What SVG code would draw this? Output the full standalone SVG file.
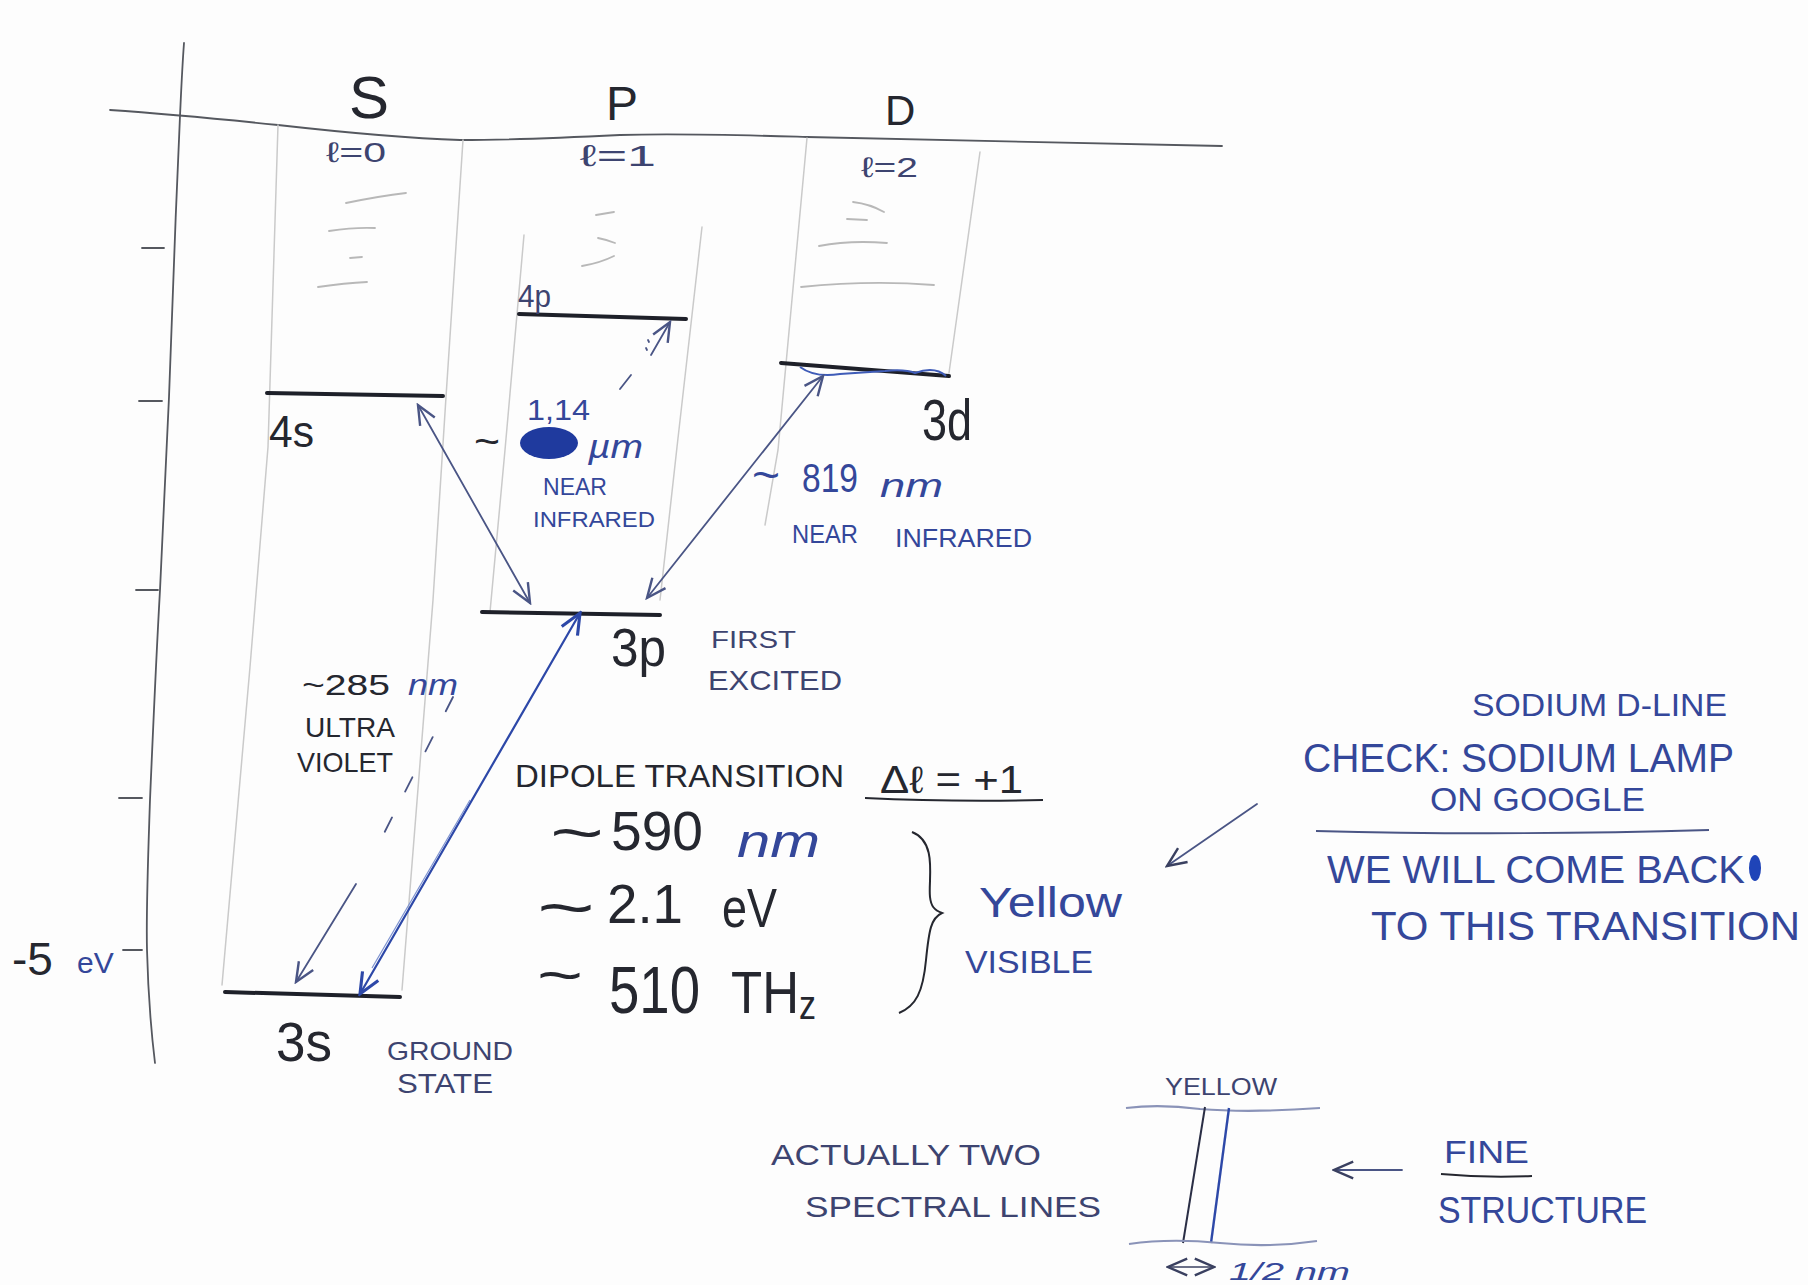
<svg xmlns="http://www.w3.org/2000/svg" width="1808" height="1285" viewBox="0 0 1808 1285">
<defs>
<style>
.t{font-family:"Liberation Sans","DejaVu Sans",sans-serif;}
.ink{fill:#25272f;}
.blue{fill:#34479a;}
.slate{fill:#3d4470;}
.faint{stroke:#cacaca;stroke-width:1.5;fill:none;stroke-linecap:round;}
.sub{stroke:#b8b8b8;stroke-width:1.8;fill:none;stroke-linecap:round;}
.lvl{stroke:#1e2029;stroke-width:4;fill:none;stroke-linecap:round;}
.axis{stroke:#55585f;stroke-width:1.8;fill:none;stroke-linecap:round;}
.con{stroke:#4a5585;stroke-width:1.8;fill:none;stroke-linecap:round;}
.conb{stroke:#2d48a8;stroke-width:2.2;fill:none;stroke-linecap:round;}
</style>
<marker id="ah" viewBox="0 0 20 20" refX="18" refY="10" markerWidth="24" markerHeight="24" markerUnits="userSpaceOnUse" orient="auto-start-reverse">
<path d="M2,3 L18,10 L2,17" fill="none" stroke="#4a5585" stroke-width="2"/>
</marker>
<marker id="ahb" viewBox="0 0 20 20" refX="18" refY="10" markerWidth="26" markerHeight="26" markerUnits="userSpaceOnUse" orient="auto-start-reverse">
<path d="M2,3 L18,10 L2,17" fill="none" stroke="#2d48a8" stroke-width="2.4"/>
</marker>
<marker id="ahk" viewBox="0 0 20 20" refX="18" refY="10" markerWidth="24" markerHeight="24" markerUnits="userSpaceOnUse" orient="auto-start-reverse">
<path d="M2,3 L18,10 L2,17" fill="none" stroke="#3a4060" stroke-width="2"/>
</marker>
</defs>
<rect width="1808" height="1285" fill="#fdfdfd"/>

<g id="axes">
<path class="axis" d="M184,43 C182,70 181,95 180,116 C176,210 172,300 169,397 C166,470 163,530 160,590 C156,660 153,730 150,800 C148,860 146,910 147,950 C148,990 151,1030 155,1063"/>
<path class="axis" d="M110,110 C170,114 230,120 278,125 C340,132 400,138 460,140 C520,140 560,138 620,135 C680,133 740,135 807,137 C900,140 1050,143 1222,146"/>
<path class="axis" d="M142,248 L164,248 M139,401 L162,401 M136,590 L158,590 M119,798 L142,798 M123,950 L142,950"/>
<text class="t ink" x="12" y="975" font-size="46">-5</text>
<text class="t blue" x="77" y="973" font-size="30">eV</text>
</g>

<g id="column-s">
<path class="faint" d="M278,125 L268,447 L250,667 L222,985"/>
<path class="faint" d="M463,140 L446,397 L433,600 L402,990"/>
<path class="sub" d="M346,203 Q380,196 406,193 M329,231 Q355,227 375,228 M350,258 L362,257 M318,287 Q345,283 367,282"/>
<text class="t ink" x="349" y="118" font-size="60">S</text>
<text class="t slate" x="326" y="162" font-size="28" textLength="60" lengthAdjust="spacingAndGlyphs">ℓ=0</text>
</g>

<g id="column-p">
<path class="faint" d="M524,235 L505,450 L490,612"/>
<path class="faint" d="M702,227 L677,447 L660,600"/>
<path class="sub" d="M596,215 L614,212 M598,238 Q608,240 615,243 M582,266 Q600,263 614,256"/>
<text class="t ink" x="606" y="120" font-size="48">P</text>
<text class="t slate" x="580" y="166" font-size="30" textLength="76" lengthAdjust="spacingAndGlyphs">ℓ=1</text>
</g>

<g id="column-d">
<path class="faint" d="M807,138 L778,450 L765,525"/>
<path class="faint" d="M980,152 L949,373"/>
<path class="sub" d="M853,202 Q870,204 884,212 M847,219 L867,220 M819,246 Q850,240 887,243 M801,287 Q870,280 934,285"/>
<text class="t ink" x="885" y="125" font-size="42">D</text>
<text class="t slate" x="861" y="177" font-size="28" textLength="57" lengthAdjust="spacingAndGlyphs">ℓ=2</text>
</g>

<g id="level-4s">
<path class="lvl" d="M267,393 L443,396"/>
<text class="t ink" x="269" y="447" font-size="44" textLength="45" lengthAdjust="spacingAndGlyphs">4s</text>
</g>

<g id="level-4p">
<path class="lvl" d="M519,314 L686,319"/>
<text class="t slate" x="518" y="307" font-size="32" textLength="33" lengthAdjust="spacingAndGlyphs">4p</text>
</g>

<g id="level-3d">
<path class="lvl" d="M781,363 L949,376"/>
<path d="M800,367 Q815,378 840,374 Q870,372 885,371 Q905,369 915,373 Q935,366 946,376" fill="none" stroke="#3f5cb8" stroke-width="2"/>
<text class="t ink" x="922" y="440" font-size="58" textLength="50" lengthAdjust="spacingAndGlyphs">3d</text>
</g>

<g id="level-3p">
<path class="lvl" d="M482,612 L660,615"/>
<text class="t ink" x="611" y="666" font-size="54" textLength="55" lengthAdjust="spacingAndGlyphs">3p</text>
<text class="t slate" x="711" y="648" font-size="24" textLength="85" lengthAdjust="spacingAndGlyphs">FIRST</text>
<text class="t slate" x="708" y="690" font-size="28" textLength="134" lengthAdjust="spacingAndGlyphs">EXCITED</text>
</g>

<g id="level-3s">
<path class="lvl" d="M225,992 L400,997"/>
<text class="t ink" x="276" y="1061" font-size="56" textLength="56" lengthAdjust="spacingAndGlyphs">3s</text>
<text class="t slate" x="387" y="1060" font-size="26" textLength="126" lengthAdjust="spacingAndGlyphs">GROUND</text>
<text class="t slate" x="397" y="1093" font-size="28" textLength="96" lengthAdjust="spacingAndGlyphs">STATE</text>
</g>

<g id="connectors">
<path class="con" d="M418,405 L530,603" marker-start="url(#ah)" marker-end="url(#ah)"/>
<path class="con" d="M823,376 L647,598" marker-start="url(#ah)" marker-end="url(#ah)"/>
<path class="conb" d="M360,994 L580,613" marker-start="url(#ahb)" marker-end="url(#ahb)"/>
<path d="M372,968 L470,800" fill="none" stroke="#7d92d0" stroke-width="1.2"/>
<path class="con" d="M620,389 L631,375"/>
<path class="con" d="M648,340 L649,342 M646,348 L647,350"/>
<path class="con" d="M651,355 L670,322" marker-end="url(#ah)"/>
<path class="con" d="M453,697 L372,857" stroke-dasharray="16 29"/>
<path class="con" d="M356,884 L296,982" marker-end="url(#ah)"/>
<path class="con" d="M1257,804 L1167,866" marker-end="url(#ahk)"/>
<path class="con" d="M1402,1170 L1334,1170" marker-end="url(#ahk)"/>
<path d="M1168,1267 L1214,1267" fill="none" stroke="#3a4060" stroke-width="1.6" marker-start="url(#ahk)" marker-end="url(#ahk)"/>
</g>

<g id="label-1-14um">
<text class="t blue" x="527" y="420" font-size="30" textLength="63" lengthAdjust="spacingAndGlyphs">1,14</text>
<text class="t ink" x="474" y="455" font-size="40" textLength="26" lengthAdjust="spacingAndGlyphs">~</text>
<ellipse cx="549" cy="443" rx="29" ry="16" fill="#1f3a9e"/>
<text class="t blue" x="588" y="458" font-size="34" font-style="italic" textLength="55" lengthAdjust="spacingAndGlyphs">µm</text>
<text class="t blue" x="543" y="495" font-size="24" textLength="64" lengthAdjust="spacingAndGlyphs">NEAR</text>
<text class="t blue" x="533" y="527" font-size="22" textLength="122" lengthAdjust="spacingAndGlyphs">INFRARED</text>
</g>

<g id="label-819nm">
<text class="t blue" x="752" y="490" font-size="44" textLength="28" lengthAdjust="spacingAndGlyphs">~</text>
<text class="t blue" x="802" y="492" font-size="40" textLength="56" lengthAdjust="spacingAndGlyphs">819</text>
<text class="t blue" x="880" y="497" font-size="34" font-style="italic" textLength="63" lengthAdjust="spacingAndGlyphs">nm</text>
<text class="t blue" x="792" y="543" font-size="26" textLength="66" lengthAdjust="spacingAndGlyphs">NEAR</text>
<text class="t blue" x="895" y="547" font-size="26" textLength="137" lengthAdjust="spacingAndGlyphs">INFRARED</text>
</g>

<g id="label-285nm">
<text class="t ink" x="302" y="695" font-size="30" textLength="88" lengthAdjust="spacingAndGlyphs">~285</text>
<text class="t blue" x="408" y="695" font-size="30" font-style="italic" textLength="50" lengthAdjust="spacingAndGlyphs">nm</text>
<text class="t ink" x="305" y="737" font-size="28" textLength="90" lengthAdjust="spacingAndGlyphs">ULTRA</text>
<text class="t ink" x="297" y="772" font-size="28" textLength="96" lengthAdjust="spacingAndGlyphs">VIOLET</text>
</g>

<g id="label-dipole">
<text class="t ink" x="515" y="787" font-size="32" textLength="329" lengthAdjust="spacingAndGlyphs">DIPOLE TRANSITION</text>
<text class="t ink" x="880" y="793" font-size="38" textLength="143" lengthAdjust="spacingAndGlyphs">Δℓ = +1</text>
<path d="M865,798 Q950,802 1043,800" fill="none" stroke="#25272f" stroke-width="2"/>
<text class="t ink" x="550" y="854" font-size="62" textLength="54" lengthAdjust="spacingAndGlyphs">~</text>
<text class="t ink" x="611" y="850" font-size="56" textLength="92" lengthAdjust="spacingAndGlyphs">590</text>
<text class="t blue" x="737" y="857" font-size="46" font-style="italic" textLength="83" lengthAdjust="spacingAndGlyphs">nm</text>
<text class="t ink" x="537" y="930" font-size="64" textLength="58" lengthAdjust="spacingAndGlyphs">~</text>
<text class="t ink" x="607" y="923" font-size="56" textLength="76" lengthAdjust="spacingAndGlyphs">2.1</text>
<text class="t ink" x="722" y="927" font-size="56" textLength="55" lengthAdjust="spacingAndGlyphs">eV</text>
<text class="t ink" x="537" y="995" font-size="58" textLength="46" lengthAdjust="spacingAndGlyphs">~</text>
<text class="t ink" x="609" y="1013" font-size="66" textLength="91" lengthAdjust="spacingAndGlyphs">510</text>
<text class="t ink" transform="translate(731,1013) scale(0.85,1)" x="0" y="0" font-size="60">TH<tspan font-size="40" dy="6">z</tspan></text>
<path d="M912,832 C938,842 928,880 930,897 C931,906 934,910 942,913 C931,918 929,930 926,960 C923,992 916,1006 899,1013" fill="none" stroke="#25272f" stroke-width="2"/>
<text class="t blue" x="979" y="917" font-size="42" textLength="143" lengthAdjust="spacingAndGlyphs">Yellow</text>
<text class="t blue" x="965" y="973" font-size="32" textLength="128" lengthAdjust="spacingAndGlyphs">VISIBLE</text>
</g>

<g id="note-sodium">
<text class="t blue" x="1472" y="716" font-size="32" textLength="255" lengthAdjust="spacingAndGlyphs">SODIUM D-LINE</text>
<text class="t blue" x="1303" y="772" font-size="40" textLength="431" lengthAdjust="spacingAndGlyphs">CHECK: SODIUM LAMP</text>
<text class="t blue" x="1430" y="811" font-size="34" textLength="215" lengthAdjust="spacingAndGlyphs">ON GOOGLE</text>
<path d="M1316,831 Q1500,836 1709,830" fill="none" stroke="#4a5585" stroke-width="1.8"/>
<text class="t blue" x="1327" y="883" font-size="38" textLength="418" lengthAdjust="spacingAndGlyphs">WE WILL COME BACK</text>
<ellipse cx="1755" cy="868" rx="6" ry="13" fill="#1f44b8"/>
<text class="t blue" x="1371" y="940" font-size="40" textLength="429" lengthAdjust="spacingAndGlyphs">TO THIS TRANSITION</text>
</g>

<g id="fine-structure">
<text class="t slate" x="1165" y="1095" font-size="24" textLength="112" lengthAdjust="spacingAndGlyphs">YELLOW</text>
<path d="M1126,1108 Q1160,1104 1200,1109 Q1250,1113 1320,1108" fill="none" stroke="#8a93b8" stroke-width="2.2"/>
<path d="M1205,1107 L1183,1243" fill="none" stroke="#2a2e45" stroke-width="2"/>
<path d="M1229,1108 L1211,1243" fill="none" stroke="#2d48a8" stroke-width="2.4"/>
<path d="M1129,1244 Q1170,1238 1220,1243 Q1270,1248 1317,1241" fill="none" stroke="#8a93b8" stroke-width="2.2"/>
<text class="t blue" x="1229" y="1280" font-size="24" font-style="italic" textLength="121" lengthAdjust="spacingAndGlyphs">1/2 nm</text>
<text class="t slate" x="771" y="1165" font-size="30" textLength="270" lengthAdjust="spacingAndGlyphs">ACTUALLY TWO</text>
<text class="t slate" x="805" y="1217" font-size="30" textLength="296" lengthAdjust="spacingAndGlyphs">SPECTRAL LINES</text>
<text class="t blue" x="1444" y="1163" font-size="32" textLength="85" lengthAdjust="spacingAndGlyphs">FINE</text>
<path d="M1441,1174 Q1485,1178 1532,1176" fill="none" stroke="#25272f" stroke-width="2"/>
<text class="t blue" x="1438" y="1223" font-size="36" textLength="209" lengthAdjust="spacingAndGlyphs">STRUCTURE</text>
</g>
</svg>
